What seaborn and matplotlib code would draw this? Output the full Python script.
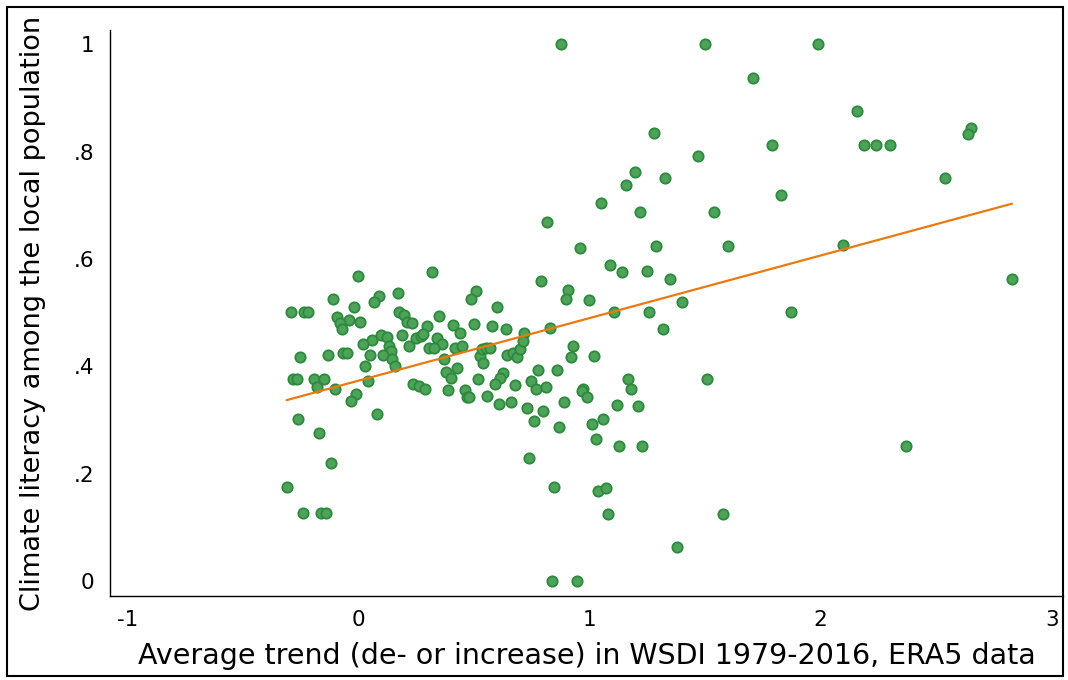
import matplotlib
matplotlib.use("Agg")
import matplotlib.pyplot as plt
import matplotlib.patches as mpatches
import seaborn as sns
import pandas as pd

# ---- data ----
wsdi_trend = [
    -0.002, -0.113, 0.088, 0.068, 0.169, -0.293, -0.235, -0.218, -0.022, -0.094,
    -0.042, 0.007, -0.081, -0.072, 0.174, 0.186, 0.097, 0.121, 0.056, 0.017,
    0.131, 0.140, 0.106, 0.049, 0.145, 0.157, -0.253, -0.133, -0.067, -0.052,
    0.027, -0.283, -0.268, -0.194, -0.150, -0.182, -0.103, 0.039, -0.012, -0.032,
    0.078, -0.263, -0.172, -0.121, -0.312, -0.242, -0.165, -0.142,
    0.317, 0.508, 0.486, 0.597, 0.196, 0.208, 0.229, 0.348, 0.218, 0.297,
    0.247, 0.268, 0.280, 0.338, 0.359, 0.306, 0.327, 0.407, 0.439, 0.498,
    0.578, 0.638, 0.716, 0.417, 0.448, 0.526, 0.539, 0.532, 0.551, 0.568,
    0.368, 0.643, 0.669, 0.687, 0.698, 0.710, 0.427, 0.378, 0.398, 0.518,
    0.626, 0.612, 0.589, 0.677, 0.236, 0.262, 0.287, 0.388, 0.460, 0.468,
    0.477, 0.557, 0.607, 0.658, 0.727, 0.744,
    1.088, 1.139, 1.248, 0.788, 0.907, 0.897, 0.998, 1.106, 1.257, 0.828,
    0.929, 0.918, 1.017, 0.777, 0.858, 0.768, 0.810, 1.167, 1.177, 0.972,
    0.965, 0.990, 0.799, 0.887, 1.118, 1.208, 0.759, 0.867, 1.009, 1.058,
    1.027, 1.128, 1.228, 0.737, 0.847, 1.037, 1.069, 1.078, 1.378, 0.837,
    0.946,
    1.278, 1.468, 1.198, 1.328, 1.158, 1.048, 1.218, 1.537, 0.958, 1.287,
    1.598, 1.348, 1.398, 1.498, 1.990, 0.876, 1.708, 1.788, 1.828, 2.158,
    2.189, 2.239, 2.299, 2.649, 2.638, 2.538, 2.097, 2.828, 0.815, 1.317,
    1.871, 1.508, 2.369, 1.577,
]
climate_literacy = [
    0.568, 0.525, 0.531, 0.519, 0.536, 0.501, 0.501, 0.501, 0.510, 0.492,
    0.486, 0.482, 0.480, 0.469, 0.502, 0.459, 0.458, 0.455, 0.449, 0.442,
    0.437, 0.428, 0.422, 0.421, 0.414, 0.401, 0.417, 0.422, 0.424, 0.424,
    0.400, 0.376, 0.376, 0.376, 0.376, 0.361, 0.357, 0.373, 0.348, 0.336,
    0.312, 0.301, 0.276, 0.220, 0.176, 0.126, 0.126, 0.126,
    0.575, 0.541, 0.525, 0.510, 0.496, 0.483, 0.480, 0.493, 0.438, 0.475,
    0.452, 0.456, 0.460, 0.452, 0.442, 0.435, 0.435, 0.477, 0.462, 0.479,
    0.476, 0.469, 0.463, 0.434, 0.438, 0.419, 0.407, 0.432, 0.434, 0.435,
    0.413, 0.422, 0.424, 0.417, 0.432, 0.447, 0.396, 0.389, 0.378, 0.377,
    0.387, 0.378, 0.368, 0.366, 0.368, 0.363, 0.358, 0.355, 0.355, 0.343,
    0.343, 0.345, 0.329, 0.334, 0.322, 0.373,
    0.589, 0.575, 0.578, 0.559, 0.542, 0.525, 0.524, 0.501, 0.501, 0.471,
    0.438, 0.417, 0.419, 0.393, 0.393, 0.358, 0.361, 0.376, 0.358, 0.358,
    0.354, 0.343, 0.317, 0.334, 0.328, 0.326, 0.299, 0.287, 0.293, 0.301,
    0.264, 0.251, 0.251, 0.230, 0.176, 0.168, 0.173, 0.125, 0.063, 0.000,
    0.000,
    0.834, 0.792, 0.762, 0.750, 0.737, 0.704, 0.688, 0.688, 0.621, 0.625,
    0.625, 0.563, 0.519, 1.000, 1.000, 1.000, 0.938, 0.812, 0.719, 0.875,
    0.812, 0.812, 0.812, 0.844, 0.833, 0.750, 0.626, 0.563, 0.669, 0.470,
    0.501, 0.376, 0.252, 0.125,
]
# linear fit (fitted values at the extremes of x)
fit_x = [-0.312, 2.828]
fit_y = [0.337, 0.703]

x_ticks = [-1, 0, 1, 2, 3]
x_ticklabels = ["-1", "0", "1", "2", "3"]
y_ticks = [0, 0.2, 0.4, 0.6, 0.8, 1.0]
y_ticklabels = ["0", ".2", ".4", ".6", ".8", "1"]

x_label = "Average trend (de- or increase) in WSDI 1979-2016, ERA5 data"
y_label = "Climate literacy among the local population"

df = pd.DataFrame({"x": wsdi_trend, "y": climate_literacy})
fit_df = pd.DataFrame({"x": fit_x, "y": fit_y})

sns.set_style("white")
plt.rcParams["font.family"] = ["DejaVu Sans"]

W, H = 1068, 680
fig = plt.figure(figsize=(W / 100, H / 100), dpi=100)
ax = fig.add_axes([110 / W, 1 - 596 / H, (1063 - 110) / W, (596 - 30) / H])

sns.scatterplot(data=df, x="x", y="y", ax=ax, s=55, color="#4fa25a",
                edgecolor="#2b8a3b", linewidth=1.3, zorder=3, legend=False)
sns.lineplot(data=fit_df, x="x", y="y", ax=ax, color="#ea7a10",
             linewidth=1.6, zorder=4, legend=False)

ax.set_xlim(-1.0766, 3.049)
ax.set_ylim(-0.0279, 1.0266)
ax.set_xticks(x_ticks)
ax.set_xticklabels(x_ticklabels)
ax.set_yticks(y_ticks)
ax.set_yticklabels(y_ticklabels)
ax.tick_params(axis="both", direction="out", length=5, width=1.0,
               color="black", labelsize=15.5, labelcolor="black")
ax.tick_params(axis="x", pad=5)
ax.tick_params(axis="y", pad=6)

for side in ["top", "right"]:
    ax.spines[side].set_visible(False)
for side in ["left", "bottom"]:
    ax.spines[side].set_color("black")
    ax.spines[side].set_linewidth(1.0)
ax.grid(False)

ax.set_xlabel(x_label, fontsize=20.5, color="black", labelpad=9)
ax.set_ylabel(y_label, fontsize=19.5, color="black", labelpad=20)

frame = mpatches.Rectangle((7 / W, 1 - 676 / H), (1063 - 7) / W, (676 - 7) / H,
                           transform=fig.transFigure, fill=False,
                           edgecolor="black", linewidth=1.5, zorder=10)
fig.patches.append(frame)

fig.savefig("out.png", dpi=100, facecolor="white")
